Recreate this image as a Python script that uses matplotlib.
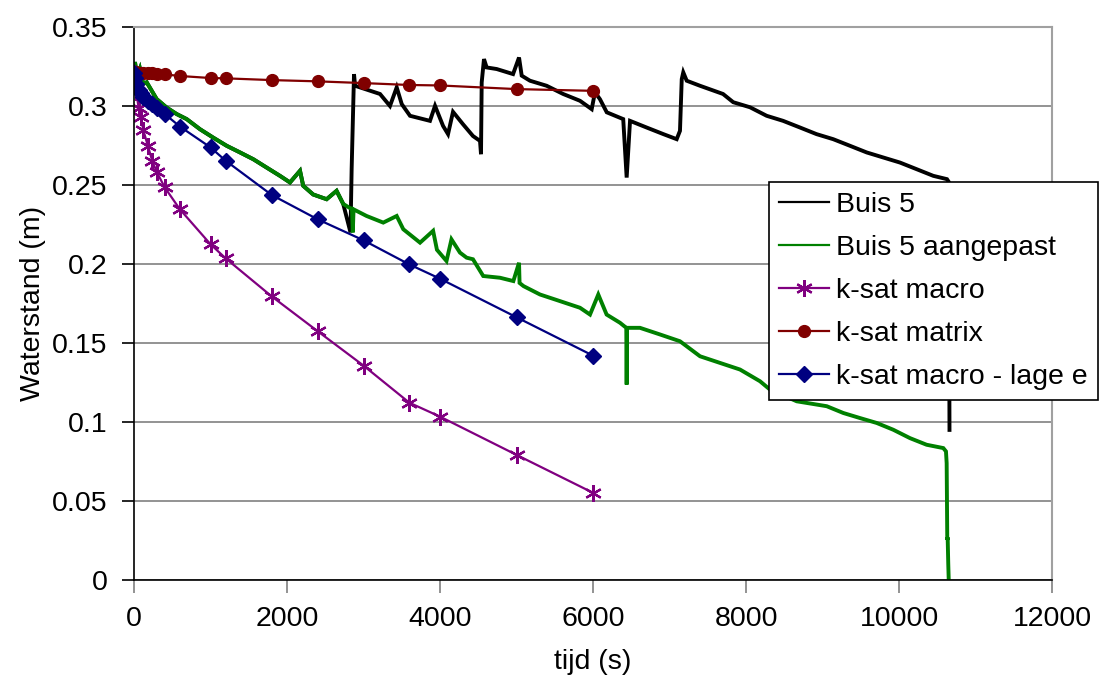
import numpy as np
import matplotlib
matplotlib.use("Agg")
import matplotlib.pyplot as plt
from matplotlib.lines import Line2D

plt.rcParams["font.family"] = ["Liberation Sans", "DejaVu Sans"]
plt.rcParams["font.size"] = 20.5

t_aangepast = [0, 13, 40, 78, 120, 166, 231, 296, 427, 558, 689, 863, 1035, 1212, 1386,
               1560, 1735, 1908, 2039, 2170, 2212, 2342, 2518, 2648, 2735, 2850, 2860,
               2870, 3040, 3258, 3434, 3520, 3739, 3910, 3960, 4085, 4150, 4261, 4348,
               4431, 4565, 4784, 4959, 5033, 5040, 5092, 5307, 5569, 5830, 5961, 6069,
               6178, 6353, 6435, 6440, 6445, 6614, 6876, 7137, 7399, 7660, 7922, 8183,
               8314, 8663, 9055, 9272, 9490, 9708, 9925, 10143, 10361, 10579, 10614,
               10623, 10631, 10636, 10644, 10650]
h_aangepast = [0.322, 0.3278, 0.318, 0.3234, 0.314, 0.315, 0.3097, 0.3044, 0.299, 0.2949,
               0.2917, 0.2853, 0.2800, 0.2748, 0.2706, 0.2663, 0.261, 0.2558, 0.2516,
               0.259, 0.2495, 0.244, 0.241, 0.2463, 0.238, 0.2346, 0.220, 0.2346, 0.2304,
               0.2262, 0.2304, 0.222, 0.2135, 0.221, 0.209, 0.2019, 0.2156, 0.2072, 0.204,
               0.203, 0.1924, 0.1913, 0.1892, 0.2008, 0.188, 0.186, 0.1807, 0.1765,
               0.1723, 0.168, 0.1807, 0.168, 0.1628, 0.1596, 0.1237, 0.1596, 0.1596,
               0.1554, 0.1511, 0.1416, 0.1374, 0.1332, 0.1258, 0.1205, 0.1131, 0.11,
               0.1057, 0.1025, 0.0994, 0.0951, 0.0898, 0.0856, 0.0835, 0.0814, 0.074,
               0.0254, 0.027, 0.01, 0.0]

# measured level, raw (black): identical to green before the first jump
t_buis5_tail = [2830, 2845, 2876, 2890, 3216, 3346, 3434, 3500, 3608, 3869, 3935, 4040,
                4105, 4170, 4300, 4431, 4523, 4536, 4545, 4575, 4610, 4741, 4955, 5033,
                5068, 5176, 5394, 5610, 5830, 5983, 6026, 6091, 6180, 6395, 6440, 6484,
                6700, 6920, 7094, 7137, 7160, 7180, 7225, 7399, 7700, 7833, 8052, 8270,
                8485, 8705, 8922, 9140, 9360, 9578, 9795, 10013, 10231, 10448, 10627,
                10650, 10660]
h_buis5_tail = [0.220, 0.2600, 0.3202, 0.3128, 0.3076, 0.300, 0.3118, 0.3012, 0.2938,
                0.2906, 0.3001, 0.2874, 0.2822, 0.2963, 0.2885, 0.281, 0.2779, 0.2695,
                0.3149, 0.3297, 0.3244, 0.3234, 0.3202, 0.3307, 0.3192, 0.316, 0.3128,
                0.3076, 0.3033, 0.298, 0.3087, 0.3043, 0.296, 0.2917, 0.2547, 0.2906,
                0.2864, 0.2822, 0.279, 0.2843, 0.3170, 0.3213, 0.316, 0.3128, 0.3076,
                0.3024, 0.2992, 0.2938, 0.2906, 0.2864, 0.2822, 0.279, 0.2748, 0.2706,
                0.2674, 0.2642, 0.26, 0.2558, 0.2537, 0.252, 0.095]

# model runs
t_model = [0, 10, 30, 60, 90, 120, 180, 240, 300, 400, 600, 1000, 1200, 1800, 2400,
           3000, 3600, 4000, 5000, 6000]
h_macro = [0.321, 0.316, 0.309, 0.299, 0.293, 0.285, 0.275, 0.265, 0.258, 0.2486,
           0.2346, 0.2125, 0.2035, 0.1795, 0.1575, 0.1357, 0.1122, 0.1034, 0.0792, 0.0552]
h_matrix = [0.3215, 0.3214, 0.3213, 0.3212, 0.3211, 0.3210, 0.3208, 0.3206, 0.3204,
            0.3200, 0.3190, 0.3177, 0.3175, 0.3164, 0.3156, 0.3145, 0.3133, 0.3130,
            0.3107, 0.3096]
h_lage_e = [0.321, 0.318, 0.314, 0.310, 0.308, 0.306, 0.303, 0.301, 0.2985, 0.295,
            0.2870, 0.2738, 0.2653, 0.2437, 0.2283, 0.2150, 0.1997, 0.1907, 0.1663, 0.1420]

labels = ["Buis 5", "Buis 5 aangepast", "k-sat macro", "k-sat matrix",
          "k-sat macro - lage e"]

green_before_jump = [(t, h) for t, h in zip(t_aangepast, h_aangepast) if t < 2830]
t_buis5 = [p[0] for p in green_before_jump] + t_buis5_tail
h_buis5 = [p[1] for p in green_before_jump] + h_buis5_tail

fig = plt.figure(figsize=(10.99, 6.84), dpi=100)
ax = fig.add_axes([134 / 1099, 1 - 580 / 684, 918 / 1099, 553 / 684])

star = (6, 2, 0)

# the logger data is a noisy band, so draw it a bit heavier
ax.plot(t_buis5, h_buis5, color="black", lw=2.8, solid_joinstyle="miter")
ax.plot(t_aangepast, h_aangepast, color="#008000", lw=2.8, solid_joinstyle="miter")
ax.plot(t_model, h_macro, color="#800080", lw=1.6, marker=star, ms=12, mew=1.6)
ax.plot(t_model, h_matrix, color="#800000", lw=1.6, marker="o", ms=8.5)
ax.plot(t_model, h_lage_e, color="#000080", lw=1.6, marker="D", ms=8)

ax.set_xlim(0, 12000)
ax.set_ylim(0, 0.35)
ax.set_xticks(np.arange(0, 12001, 2000))
ax.set_yticks(np.arange(0, 0.351, 0.05))
ax.set_yticklabels(["0", "0.05", "0.1", "0.15", "0.2", "0.25", "0.3", "0.35"])
ax.yaxis.grid(True, color="#808080", lw=1.2)
ax.set_axisbelow(True)
for s in ["top", "right"]:
    ax.spines[s].set_color("#a0a0a0")
    ax.spines[s].set_linewidth(1.5)
for s in ["left", "bottom"]:
    ax.spines[s].set_color("black")
    ax.spines[s].set_linewidth(1.2)
ax.tick_params(axis="y", length=9, width=1.2, pad=10, direction="out")
ax.tick_params(axis="x", length=9, width=1.2, pad=10, color="#808080", direction="out")

ax.set_xlabel("tijd (s)", labelpad=12)
ax.set_ylabel("Waterstand (m)", labelpad=4)

handles = [
    Line2D([], [], color="black", lw=1.6),
    Line2D([], [], color="#008000", lw=1.6),
    Line2D([], [], color="#800080", lw=1.6, marker=star, ms=12, mew=1.6),
    Line2D([], [], color="#800000", lw=1.6, marker="o", ms=8.5),
    Line2D([], [], color="#000080", lw=1.6, marker="D", ms=8),
]
leg = fig.legend(handles, labels, loc="upper left",
                 bbox_to_anchor=(769 / 1099, 1 - 182 / 684), borderaxespad=0,
                 fancybox=False, framealpha=1, edgecolor="black",
                 handlelength=1.75, handletextpad=0.25, labelspacing=0.6,
                 borderpad=0.35, fontsize=20.5)
leg.get_frame().set_linewidth(1.2)

fig.savefig("out.png", dpi=100)
